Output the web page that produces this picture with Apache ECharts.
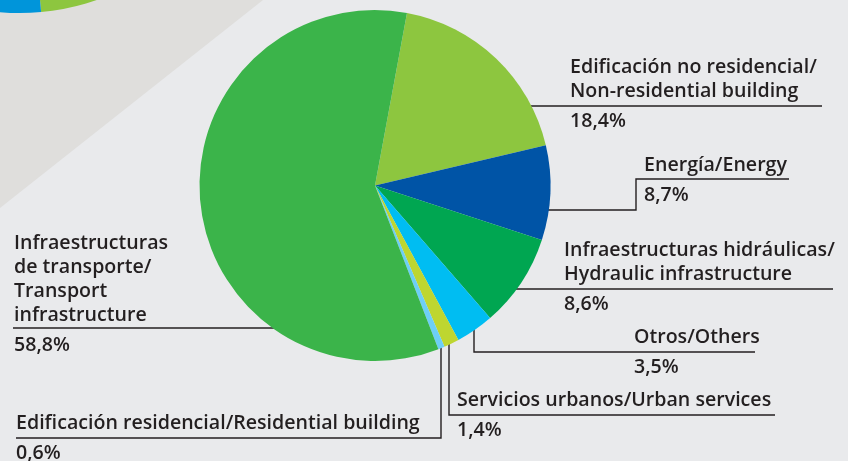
<!DOCTYPE html>
<html>
<head>
<meta charset="utf-8">
<script src="https://cdn.jsdelivr.net/npm/echarts@6/dist/echarts.min.js"></script>
<style>
  html, body { margin: 0; padding: 0; background: #e9eaec; }
  #chart { width: 848px; height: 461px; }
</style>
</head>
<body>
<div id="chart"></div>
<script>
// slices, clockwise from the top
var names = [
  'Edificación no residencial/\nNon-residential building',
  'Energía/Energy',
  'Infraestructuras hidráulicas/\nHydraulic infrastructure',
  'Otros/Others',
  'Servicios urbanos/Urban services',
  'Edificación residencial/Residential building',
  'Infraestructuras\nde transporte/\nTransport\ninfrastructure'
];
var values = [18.4, 8.7, 8.6, 3.5, 1.4, 0.6, 58.8];
var colors = ['#8dc63f', '#0054a6', '#00a651', '#00bdf2', '#bed630', '#6dcff6', '#3bb44a'];

// decorative piece of another pie in the top-left corner
var cornerValues = [50, 50];
var cornerColors = ['#8dc63f', '#0095da'];

// label placement: text left x, first line centre y, leader line
var labelPos = [
  [570, 67],
  [644, 165],
  [564, 250],
  [634, 337],
  [457, 400],
  [16, 423],
  [14, 243]
];
var leaders = [
  [[531, 106], [822, 106]],
  [[548, 210], [636, 210], [636, 179], [789, 179]],
  [[516, 289], [833, 289]],
  [[474, 329], [474, 352], [755, 352]],
  [[449, 344], [449, 415], [775, 415]],
  [[441, 347], [441, 438], [16, 438]],
  [[275, 328], [13, 328]]
];

var myChart = echarts.init(document.getElementById('chart'));

var txt = { fontFamily: 'Open Sans', fontWeight: 600, fontSize: 19.6, color: '#231f20' };

var option = {
  backgroundColor: '#e9eaec',
  animation: false,
  graphic: [{
    type: 'polygon',
    z: -10,
    shape: { points: [[0, 0], [263, 0], [0, 208]] },
    style: { fill: '#dfdedc' }
  }],
  series: [
    {
      type: 'pie',
      silent: true,
      center: [20, -220],
      radius: 233,
      startAngle: 95.2,
      label: { show: false },
      labelLine: { show: false },
      data: cornerValues.map(function (v, i) {
        return { value: v, itemStyle: { color: cornerColors[i] } };
      })
    },
    {
      type: 'pie',
      center: [375, 185.5],
      radius: 175.5,
      startAngle: 79.5,
      avoidLabelOverlap: false,
      label: {
        show: true,
        position: 'outside',
        formatter: function (p) {
          var lines = names[p.dataIndex].split('\n').map(function (s) {
            return '{n|' + s + '}';
          });
          var pct = values[p.dataIndex].toFixed(1).replace('.', ',') + '%';
          return lines.join('\n') + '\n{p|' + pct + '}';
        },
        rich: {
          n: Object.assign({ lineHeight: 24 }, txt),
          p: Object.assign({ lineHeight: 36 }, txt)
        }
      },
      labelLine: {
        show: true,
        lineStyle: { color: '#231f20', width: 1.4 }
      },
      labelLayout: function (params) {
        var i = params.dataIndex;
        return {
          x: labelPos[i][0],
          y: labelPos[i][1] - 12,
          align: 'left',
          verticalAlign: 'top',
          labelLinePoints: leaders[i]
        };
      },
      data: values.map(function (v, i) {
        return { value: v, name: names[i], itemStyle: { color: colors[i] } };
      })
    }
  ]
};

myChart.setOption(option);
</script>
</body>
</html>
